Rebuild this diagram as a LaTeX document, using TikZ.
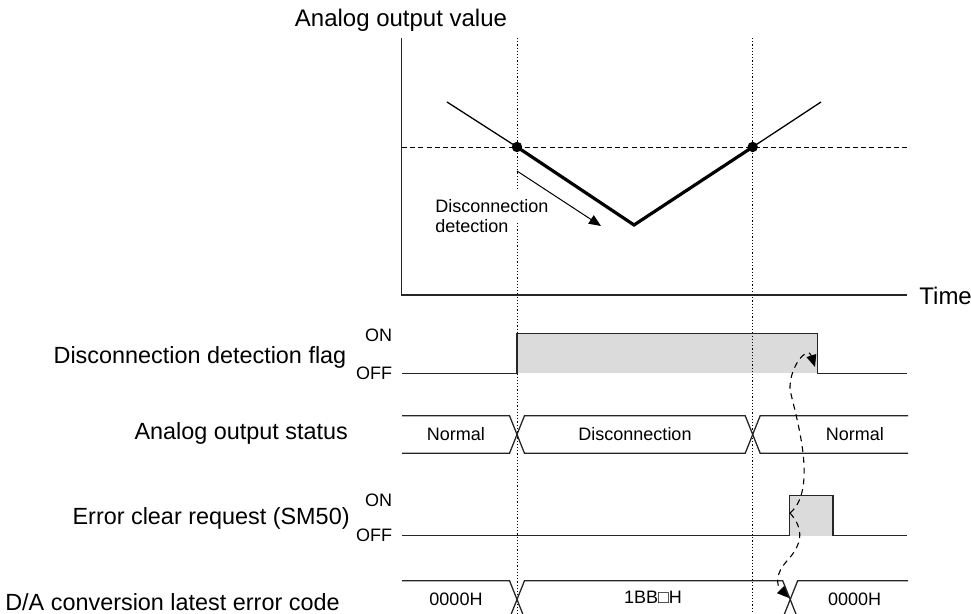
\documentclass[tikz,border=0pt]{standalone}
\usepackage{fontspec}
\setmainfont{Liberation Sans}
\usetikzlibrary{arrows.meta}

\tikzset{
    sig/.style={line width=0.65pt, black!85},
    axisline/.style={line width=0.65pt, black!85},
    guide/.style={line width=0.4pt, dash pattern=on 0.6pt off 1pt},
    level/.style={line width=0.45pt, dash pattern=on 2.5pt off 1.6pt},
    thinv/.style={line width=0.65pt},
    thickv/.style={line width=1.6pt},
    hi/.style={fill=black!14},
    tip/.style={-{Triangle[length=6pt,width=5pt]}},
    cause/.style={line width=0.55pt, dash pattern=on 3pt off 2.4pt, tip},
    biglabel/.style={font=\fontsize{12}{14}\selectfont, inner sep=0pt},
    rowlabel/.style={font=\fontsize{11.7}{14}\selectfont, inner sep=0pt, anchor=base east},
    smalllabel/.style={font=\fontsize{9}{10}\selectfont, inner sep=0pt},
}

\begin{document}
\begin{tikzpicture}[x=0.5pt, y=-0.5pt]
    \clip (0,0) rectangle (971,614);

    % Grey ON areas
    \fill[hi] (517,333.3) rectangle (817.3,373.3);
    \fill[hi] (789.7,495.7) rectangle (833,535.7);

    % Guide lines
    \draw[guide] (517,38) -- (517,189) (517,223) -- (517,614);
    \draw[guide] (752.7,38) -- (752.7,614);
    \draw[level] (402,147) -- (907,147);

    % Axes
    \draw[axisline] (401.7,38.3) -- (401.7,295) -- (906.7,295);
    \node[biglabel, anchor=base west] (yname) at (294.5,26.7) {Analog output value};
    \node[biglabel, anchor=base west] (xname) at (919,305) {Time};

    % Analog output value
    \coordinate (d1) at (517,147);
    \coordinate (d2) at (752.7,147);
    \coordinate (vbot) at (634,225);
    \draw[thinv] (447,102) -- (d1);
    \draw[thickv, line join=miter] (d1) -- (vbot) -- (d2);
    \draw[thinv] (d2) -- (821,102);
    \fill (d1) circle[radius=2.6pt];
    \fill (d2) circle[radius=2.6pt];

    % Disconnection detection arrow
    \coordinate (da) at (517,171);
    \coordinate (db) at (601,226);
    \draw[line width=0.5pt, tip] (da) -- (db);
    \node[smalllabel, align=left, anchor=north west] (dlabel) at (435,199.5) {Disconnection\\detection};

    % Left labels
    \node[rowlabel] (flagname) at (346.7,363.3) {Disconnection detection flag};
    \node[smalllabel, anchor=base east] (flagon) at (392.5,341.7) {ON};
    \node[smalllabel, anchor=base east] (flagoff) at (392.5,380) {OFF};
    \node[rowlabel] (statname) at (348.3,439.5) {Analog output status};
    \node[rowlabel] (clrname) at (350,524.3) {Error clear request (SM50)};
    \node[smalllabel, anchor=base east] (clron) at (392.5,506.7) {ON};
    \node[smalllabel, anchor=base east] (clroff) at (392.5,541.7) {OFF};
    \node[rowlabel] (codename) at (340,611) {D/A conversion latest error code};

    % Disconnection detection flag
    \draw[sig] (402,373.3) -- (517,373.3) -- (517,333.3) -- (817.3,333.3) -- (817.3,373.3) -- (907.3,373.3);

    % Analog output status
    \draw[sig] (402,415.7) -- (509.5,415.7) -- (524.5,453.3) -- (745.2,453.3) -- (760.2,415.7) -- (908,415.7);
    \draw[sig] (402,453.3) -- (509.5,453.3) -- (524.5,415.7) -- (745.2,415.7) -- (760.2,453.3) -- (908,453.3);
    \node[smalllabel, anchor=base] (st1) at (455.8,440.7) {Normal};
    \node[smalllabel, anchor=base] (st2) at (635,440.7) {Disconnection};
    \node[smalllabel, anchor=base] (st3) at (854.8,440.7) {Normal};

    % Error clear request
    \draw[sig] (402,535.7) -- (789.7,535.7) -- (789.7,495.7) -- (833,495.7) -- (833,535.7) -- (907.3,535.7);

    % Latest error code
    \draw[sig] (402,580.7) -- (509.5,580.7) -- (524.5,618.3) -- (782.7,618.3) -- (797.7,580.7) -- (908,580.7);
    \draw[sig] (402,618.3) -- (509.5,618.3) -- (524.5,580.7) -- (782.7,580.7) -- (797.7,618.3) -- (908,618.3);
    \node[smalllabel, anchor=base] (ec1) at (456,605.7) {0000H};
    \node[smalllabel, anchor=base] (ec2) at (653,603.5) {1BB□H};
    \node[smalllabel, anchor=base] (ec3) at (854.7,605.7) {0000H};

    % Clear request effects
    \coordinate (clr) at (790,513);
    \coordinate (fall) at (815,367);
    \coordinate (codex) at (789,598);
    \draw[cause] (clr) .. controls (818,490) and (797,420) .. (790,390) .. controls (789,366) and (808,345) .. (fall);
    \draw[cause] (clr) .. controls (805,530) and (802,545) .. (786,562) .. controls (776,573) and (776,585) .. (codex);
\end{tikzpicture}
\end{document}
